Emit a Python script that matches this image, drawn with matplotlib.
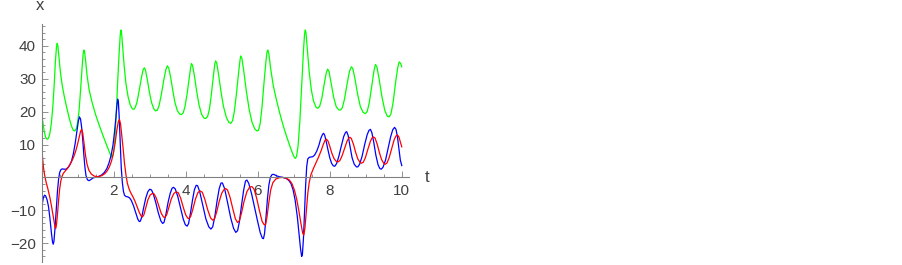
import matplotlib
matplotlib.use("Agg")
import matplotlib.pyplot as plt
from matplotlib.ticker import MultipleLocator

# points, (t, value)
z_pts = [(0.00, 20.0), (0.03, 17.0), (0.07, 14.0), (0.11, 12.2), (0.15, 11.6), (0.19, 11.9),
         (0.23, 13.5), (0.27, 16.5), (0.31, 21.5), (0.35, 28.5), (0.38, 35.0), (0.41, 39.5),
         (0.43, 40.7), (0.45, 40.0), (0.48, 36.5), (0.52, 32.0), (0.57, 28.0), (0.63, 24.5),
         (0.70, 21.0), (0.77, 17.8), (0.83, 15.5), (0.88, 14.3), (0.92, 14.1), (0.96, 14.8),
         (1.00, 16.8), (1.04, 20.5), (1.08, 26.5), (1.12, 33.0), (1.15, 37.3), (1.17, 38.7),
         (1.19, 38.2), (1.22, 35.5), (1.26, 31.0), (1.32, 26.5), (1.40, 22.8), (1.50, 19.0),
         (1.60, 15.8), (1.70, 12.8), (1.78, 10.5), (1.86, 8.3), (1.92, 6.6), (1.955, 6.1),
         (1.99, 7.0), (2.03, 11.0), (2.07, 19.0), (2.11, 29.0), (2.15, 37.5), (2.18, 43.0),
         (2.20, 44.8), (2.22, 43.8), (2.25, 39.5), (2.29, 34.0), (2.34, 28.5), (2.40, 24.5),
         (2.46, 22.0), (2.52, 20.8), (2.56, 20.7), (2.60, 21.3), (2.65, 23.0), (2.71, 26.5),
         (2.77, 30.3), (2.82, 32.8), (2.85, 33.3), (2.88, 32.7), (2.93, 30.0), (2.99, 26.0),
         (3.05, 22.8), (3.11, 20.9), (3.16, 20.2), (3.21, 20.4), (3.26, 21.8), (3.32, 25.0),
         (3.39, 29.5), (3.45, 32.8), (3.49, 33.9), (3.53, 33.2), (3.58, 30.5), (3.64, 26.5),
         (3.70, 22.8), (3.77, 20.2), (3.84, 19.2), (3.88, 19.1), (3.93, 19.6), (3.98, 21.5),
         (4.04, 25.5), (4.10, 30.5), (4.14, 33.6), (4.16, 34.6), (4.19, 34.0), (4.24, 31.0),
         (4.30, 26.5), (4.37, 22.0), (4.44, 19.2), (4.51, 18.0), (4.56, 17.9), (4.61, 18.6),
         (4.66, 20.8), (4.71, 25.0), (4.77, 31.0), (4.81, 34.6), (4.83, 35.4), (4.86, 34.8),
         (4.91, 31.5), (4.98, 26.0), (5.05, 21.5), (5.13, 18.2), (5.20, 16.7), (5.25, 16.4),
         (5.30, 17.2), (5.35, 20.0), (5.41, 25.5), (5.47, 32.0), (5.51, 35.8), (5.53, 36.9),
         (5.56, 36.2), (5.61, 32.5), (5.68, 26.5), (5.76, 20.8), (5.84, 16.8), (5.92, 14.7),
         (5.98, 14.1), (6.02, 14.3), (6.07, 16.5), (6.12, 21.5), (6.18, 29.5), (6.23, 35.5),
         (6.26, 38.2), (6.28, 38.7), (6.31, 37.5), (6.36, 33.0), (6.43, 28.0), (6.51, 24.0),
         (6.60, 20.0), (6.70, 16.0), (6.80, 12.5), (6.90, 9.3), (6.97, 7.2), (7.02, 6.0),
         (7.05, 5.8), (7.08, 6.5), (7.12, 9.5), (7.17, 17.0), (7.22, 28.0), (7.27, 38.5),
         (7.30, 43.5), (7.32, 44.8), (7.34, 44.0), (7.38, 38.5), (7.43, 32.0), (7.49, 26.5),
         (7.55, 23.2), (7.62, 21.3), (7.67, 21.0), (7.72, 21.6), (7.78, 24.0), (7.84, 28.0),
         (7.90, 31.6), (7.94, 32.9), (7.98, 32.2), (8.04, 28.5), (8.11, 24.3), (8.18, 21.5),
         (8.25, 20.5), (8.30, 20.5), (8.35, 21.2), (8.41, 23.8), (8.48, 28.3), (8.55, 32.3),
         (8.60, 33.6), (8.64, 33.1), (8.70, 30.0), (8.77, 25.5), (8.85, 21.5), (8.93, 19.7),
         (8.99, 19.4), (9.04, 20.0), (9.10, 22.8), (9.17, 28.0), (9.23, 32.5), (9.27, 34.3),
         (9.31, 33.6), (9.37, 30.0), (9.45, 24.5), (9.53, 20.3), (9.60, 18.6), (9.65, 18.4),
         (9.70, 19.3), (9.76, 22.8), (9.83, 29.0), (9.89, 33.5), (9.93, 35.1), (9.97, 34.6),
         (10.0, 33.6)]

x_pts = [(0.00, 10.0), (0.02, 6.5), (0.05, 3.0), (0.08, 0.8), (0.12, -1.3), (0.175, -3.6),
         (0.23, -6.2), (0.28, -9.2), (0.33, -12.5), (0.37, -15.0), (0.39, -15.5), (0.41, -14.5),
         (0.44, -11.0), (0.47, -6.9), (0.50, -3.5), (0.53, -1.2), (0.56, 0.2), (0.60, 1.2),
         (0.65, 1.9), (0.70, 2.5), (0.76, 3.4), (0.82, 4.6), (0.88, 6.0), (0.94, 7.8),
         (0.99, 9.8), (1.04, 12.2), (1.08, 14.0), (1.11, 14.6), (1.14, 13.5), (1.18, 10.0),
         (1.22, 6.5), (1.26, 4.0), (1.31, 2.2), (1.38, 1.0), (1.46, 0.4), (1.56, 0.2),
         (1.66, 0.5), (1.75, 1.1), (1.82, 2.0), (1.88, 3.2), (1.94, 5.0), (1.99, 7.3),
         (2.04, 10.5), (2.09, 14.5), (2.13, 17.0), (2.16, 17.6), (2.19, 16.3), (2.22, 13.3),
         (2.26, 9.0), (2.30, 4.3), (2.34, 0.8), (2.38, -1.8), (2.43, -3.6), (2.48, -4.8),
         (2.53, -5.8), (2.59, -7.2), (2.65, -8.9), (2.71, -10.6), (2.76, -11.7), (2.80, -12.0),
         (2.84, -11.3), (2.89, -9.2), (2.95, -6.8), (3.01, -5.4), (3.07, -4.9), (3.12, -5.0),
         (3.18, -6.2), (3.25, -8.6), (3.32, -10.9), (3.38, -12.0), (3.42, -12.2), (3.47, -11.4),
         (3.53, -9.2), (3.60, -6.5), (3.67, -4.9), (3.73, -4.4), (3.79, -4.6), (3.86, -6.3),
         (3.93, -9.0), (4.00, -11.4), (4.06, -12.4), (4.09, -12.5), (4.14, -11.8), (4.20, -9.6),
         (4.27, -6.6), (4.34, -4.6), (4.40, -4.1), (4.46, -4.5), (4.53, -6.6), (4.61, -9.8),
         (4.69, -12.3), (4.75, -13.0), (4.80, -12.6), (4.86, -10.5), (4.93, -7.3), (5.00, -4.8),
         (5.07, -3.6), (5.11, -3.4), (5.16, -3.8), (5.23, -6.0), (5.31, -9.6), (5.38, -12.6),
         (5.44, -13.7), (5.49, -13.2), (5.55, -10.8), (5.62, -7.3), (5.70, -4.3), (5.78, -2.9),
         (5.84, -2.8), (5.90, -3.6), (5.97, -6.3), (6.05, -10.2), (6.12, -13.3), (6.18, -14.4),
         (6.22, -14.3), (6.26, -11.8), (6.31, -7.5), (6.36, -3.8), (6.42, -1.6), (6.50, -0.5),
         (6.60, -0.1), (6.69, 0.0), (6.78, -0.2), (6.88, -0.8), (6.95, -1.9), (7.02, -3.9),
         (7.08, -6.5), (7.14, -10.0), (7.20, -14.0), (7.25, -17.0), (7.28, -17.5), (7.31, -15.5),
         (7.35, -10.0), (7.39, -4.9), (7.43, -1.5), (7.48, 0.9), (7.55, 2.8), (7.62, 4.5),
         (7.69, 6.2), (7.76, 8.1), (7.82, 10.0), (7.87, 11.3), (7.91, 11.6), (7.95, 11.1),
         (8.00, 9.5), (8.06, 7.3), (8.12, 5.7), (8.18, 4.9), (8.23, 4.7), (8.28, 5.1),
         (8.34, 6.5), (8.41, 8.8), (8.48, 11.0), (8.53, 12.0), (8.56, 12.2), (8.60, 11.8),
         (8.66, 10.0), (8.72, 7.6), (8.78, 5.6), (8.84, 4.6), (8.88, 4.3), (8.93, 4.6),
         (8.99, 6.0), (9.06, 8.6), (9.13, 11.0), (9.18, 12.1), (9.22, 12.3), (9.26, 11.9),
         (9.32, 10.0), (9.38, 7.5), (9.44, 5.4), (9.50, 4.3), (9.54, 4.0), (9.59, 4.4),
         (9.65, 6.0), (9.72, 8.8), (9.79, 11.5), (9.84, 12.6), (9.88, 12.9), (9.92, 12.3),
         (9.96, 10.8), (10.0, 9.3)]

y_pts = [(0.00, -10.0), (0.02, -7.8), (0.05, -6.0), (0.08, -5.4), (0.11, -5.6), (0.15, -6.8),
         (0.19, -8.9), (0.23, -12.5), (0.27, -16.8), (0.30, -19.5), (0.32, -20.3), (0.34, -19.5),
         (0.37, -15.5), (0.41, -8.9), (0.44, -4.0), (0.47, -0.5), (0.50, 1.5), (0.53, 2.3),
         (0.57, 2.6), (0.62, 2.5), (0.68, 2.5), (0.73, 3.0), (0.78, 3.8), (0.83, 5.0),
         (0.88, 7.2), (0.93, 10.3), (0.98, 14.2), (1.02, 17.2), (1.05, 18.4), (1.08, 17.7),
         (1.11, 15.2), (1.14, 11.5), (1.17, 7.0), (1.20, 3.2), (1.23, 0.6), (1.27, -0.7),
         (1.31, -1.0), (1.36, -0.7), (1.42, -0.2), (1.50, 0.1), (1.58, 0.3), (1.66, 0.7),
         (1.74, 1.5), (1.81, 2.7), (1.87, 4.4), (1.93, 6.8), (1.98, 9.8), (2.02, 13.5),
         (2.06, 18.0), (2.09, 22.0), (2.11, 23.8), (2.13, 23.0), (2.15, 19.0), (2.17, 13.5),
         (2.19, 8.0), (2.21, 3.0), (2.24, -1.5), (2.27, -4.2), (2.30, -5.4), (2.34, -5.8),
         (2.39, -5.9), (2.44, -6.2), (2.49, -7.0), (2.55, -8.6), (2.61, -10.7), (2.67, -12.7),
         (2.71, -13.4), (2.74, -13.3), (2.78, -12.0), (2.83, -9.3), (2.89, -6.3), (2.95, -4.3),
         (3.00, -3.6), (3.05, -3.8), (3.10, -5.0), (3.17, -7.7), (3.24, -10.8), (3.31, -13.2),
         (3.36, -14.0), (3.40, -13.6), (3.45, -11.2), (3.51, -7.6), (3.57, -4.8), (3.62, -3.3),
         (3.66, -3.0), (3.71, -3.5), (3.78, -5.8), (3.86, -9.4), (3.93, -12.6), (3.99, -14.4),
         (4.04, -14.8), (4.08, -14.0), (4.13, -11.0), (4.19, -6.8), (4.24, -3.8), (4.29, -2.4),
         (4.33, -2.5), (4.39, -4.4), (4.47, -8.3), (4.56, -12.6), (4.64, -15.0), (4.70, -15.7),
         (4.75, -15.0), (4.81, -11.8), (4.87, -7.2), (4.93, -3.4), (4.98, -1.7), (5.02, -1.7),
         (5.08, -3.4), (5.16, -7.5), (5.25, -12.3), (5.33, -15.5), (5.39, -16.7), (5.44, -16.2),
         (5.49, -13.5), (5.55, -8.5), (5.61, -3.8), (5.66, -1.1), (5.70, -0.8), (5.75, -1.8),
         (5.83, -5.0), (5.92, -9.5), (6.00, -13.5), (6.07, -16.8), (6.13, -18.5), (6.16, -18.6),
         (6.19, -17.0), (6.23, -12.0), (6.27, -6.5), (6.31, -2.3), (6.35, 0.0), (6.40, 0.9),
         (6.45, 0.9), (6.52, 0.5), (6.60, 0.2), (6.70, 0.0), (6.79, -0.3), (6.86, -0.9),
         (6.92, -1.8), (6.98, -3.7), (7.04, -7.0), (7.10, -12.0), (7.15, -17.5), (7.19, -21.8),
         (7.22, -24.0), (7.24, -23.5), (7.27, -18.5), (7.30, -10.5), (7.33, -2.5), (7.36, 3.3),
         (7.39, 5.6), (7.43, 6.1), (7.48, 6.2), (7.53, 6.3), (7.58, 6.8), (7.64, 8.0),
         (7.70, 9.8), (7.75, 11.8), (7.80, 13.1), (7.83, 13.4), (7.86, 12.8), (7.90, 11.0),
         (7.95, 8.4), (8.00, 6.0), (8.05, 4.3), (8.10, 3.5), (8.14, 3.4), (8.19, 4.2),
         (8.25, 6.3), (8.32, 9.5), (8.39, 12.5), (8.44, 13.7), (8.47, 13.9), (8.51, 12.8),
         (8.56, 9.6), (8.62, 6.0), (8.68, 4.0), (8.74, 3.2), (8.78, 3.2), (8.83, 4.0),
         (8.90, 6.5), (8.97, 10.0), (9.04, 13.0), (9.09, 14.3), (9.13, 14.6), (9.17, 13.6),
         (9.22, 10.8), (9.28, 6.8), (9.34, 3.9), (9.39, 2.7), (9.43, 2.5), (9.48, 3.1),
         (9.55, 5.3), (9.62, 8.8), (9.69, 12.3), (9.75, 14.5), (9.80, 15.2), (9.84, 14.6),
         (9.88, 12.3), (9.92, 8.8), (9.96, 5.3), (10.0, 3.6)]

t_z, z_vals = zip(*z_pts)
t_x, x_vals = zip(*x_pts)
t_y, y_vals = zip(*y_pts)

x_ticks = [2, 4, 6, 8, 10]
y_ticks = [-20, -10, 10, 20, 30, 40]

plt.rcParams['font.family'] = ['Liberation Sans', 'DejaVu Sans']

fig = plt.figure(figsize=(9.02, 2.65), dpi=100)
ax = fig.add_axes([0.0462, 0.0113, 0.4072, 0.898])

ax.plot(t_z, z_vals, color='#00ff00', lw=0.9)
ax.plot(t_y, y_vals, color='#0000ff', lw=0.9)
ax.plot(t_x, x_vals, color='#ff0000', lw=0.9)

ax.set_xlim(0, 10.2)
ax.set_ylim(-25.7, 46.6)

for s in ['top', 'right']:
    ax.spines[s].set_visible(False)
ax.spines['left'].set_position(('data', 0))
ax.spines['bottom'].set_position(('data', 0))
for s in ['left', 'bottom']:
    ax.spines[s].set_color('#808080')
    ax.spines[s].set_linewidth(0.8)

ax.set_xticks(x_ticks)
ax.set_yticks(y_ticks)
ax.xaxis.set_minor_locator(MultipleLocator(0.5))
ax.yaxis.set_minor_locator(MultipleLocator(2))
ax.tick_params(which='both', direction='in', colors='#808080', labelcolor='#404040',
               labelsize=11, width=0.6)
ax.tick_params(which='major', length=4)
ax.tick_params(which='minor', length=2)
ax.tick_params(axis='x', pad=5)
ax.tick_params(axis='y', pad=4)

fig.text(40 / 902, 1 - 6 / 265, 'x', fontsize=12, color='#404040', ha='center', va='center')
fig.text(427 / 902, 1 - 177 / 265, 't', fontsize=12, color='#404040', ha='center', va='center')

fig.savefig('out.png', dpi=100)
